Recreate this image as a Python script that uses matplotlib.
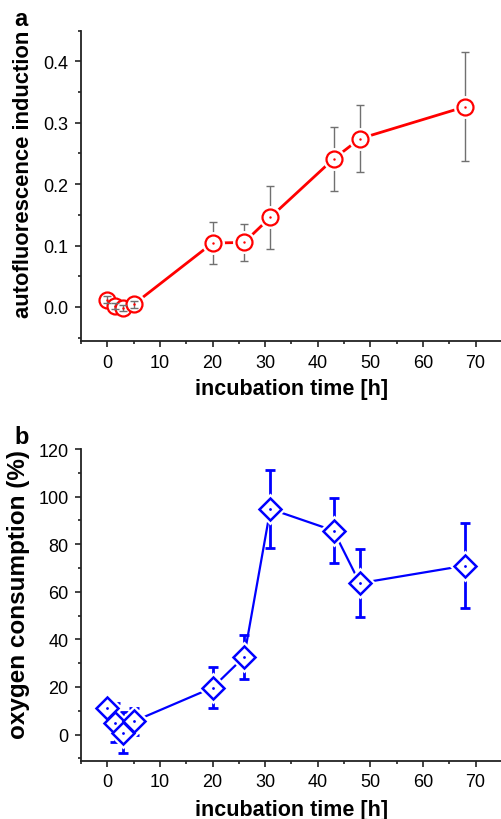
import matplotlib
matplotlib.use('Agg')
import matplotlib.pyplot as plt
from matplotlib.ticker import MultipleLocator, AutoMinorLocator

plt.rcParams['font.family'] = ['Liberation Sans', 'DejaVu Sans']

# incubation times [h]
time_h = [0, 1.5, 3, 5, 20, 26, 31, 43, 48, 68]

# panel a: autofluorescence induction
af_mean = [0.012, 0.002, -0.002, 0.004, 0.104, 0.105, 0.146, 0.241, 0.274, 0.326]
af_err = [0.005, 0.005, 0.005, 0.005, 0.034, 0.030, 0.051, 0.052, 0.055, 0.089]

# panel b: oxygen consumption (%)
ox_mean = [11, 5, 0.7, 5.5, 19.7, 32.6, 94.8, 85.7, 63.6, 71]
ox_err = [3, 8.3, 8.6, 5.7, 8.7, 9.1, 16.4, 13.7, 14.4, 17.7]

fig = plt.figure(figsize=(5.01, 8.20), dpi=100)
ax1 = fig.add_axes([0.1617, 0.5826, 0.84, 0.3788])
ax2 = fig.add_axes([0.1617, 0.0711, 0.84, 0.3801])


def style_axes(ax, xpad):
    for side in ('top', 'right'):
        ax.spines[side].set_visible(False)
    for side in ('left', 'bottom'):
        ax.spines[side].set_linewidth(1.3)
        ax.spines[side].set_color('#222222')
    ax.set_xlim(-5, 75)
    ax.xaxis.set_major_locator(MultipleLocator(10))
    ax.xaxis.set_minor_locator(AutoMinorLocator(2))
    ax.yaxis.set_minor_locator(AutoMinorLocator(2))
    ax.tick_params(which='major', direction='out', length=4.5, width=1.2,
                   labelsize=13, color='#222222', pad=4.5)
    ax.tick_params(which='minor', direction='out', length=2.5, width=1.2,
                   color='#222222')
    ax.set_xlabel('incubation time [h]', fontsize=15.5, fontweight='bold',
                  labelpad=xpad)


# panel a
small = slice(0, 4)
ax1.plot(time_h, af_mean, color='red', lw=2, zorder=2)
ax1.errorbar(time_h, af_mean, yerr=af_err, fmt='none', ecolor='#707070',
             elinewidth=1, capsize=3, capthick=1, zorder=1)
ax1.plot(time_h, af_mean, ls='none', marker='o', ms=14.5, mfc='white',
         mec='white', mew=2, zorder=3)
ax1.plot(time_h, af_mean, ls='none', marker='o', ms=11.5, mfc='white',
         mec='red', mew=1.6, zorder=4)
ax1.errorbar(time_h[small], af_mean[small], yerr=af_err[small], fmt='none',
             ecolor='#707070', elinewidth=1, capsize=3, capthick=1, zorder=5)
ax1.plot(time_h, af_mean, ls='none', marker='.', ms=1.5, color='red', zorder=6)
style_axes(ax1, 5)
ax1.set_ylim(-0.056, 0.45)
ax1.yaxis.set_major_locator(MultipleLocator(0.1))
ax1.yaxis.set_major_formatter(plt.FormatStrFormatter('%.1f'))
ax1.set_ylabel('autofluorescence induction', fontsize=15.8, fontweight='bold',
               labelpad=7)
ax1.yaxis.label.set_y(0.54)
fig.text(0.028, 0.976, 'a', fontsize=17, fontweight='bold', va='center')

# panel b
ax2.plot(time_h, ox_mean, color='blue', lw=1.6, zorder=2)
ax2.errorbar(time_h, ox_mean, yerr=ox_err, fmt='none', ecolor='blue',
             elinewidth=2, capsize=3.5, capthick=2, zorder=1)
ax2.plot(time_h, ox_mean, ls='none', marker='D', ms=14, mfc='white',
         mec='white', mew=2, zorder=3)
ax2.plot(time_h, ox_mean, ls='none', marker='D', ms=11.5, mfc='white',
         mec='blue', mew=1.8, zorder=4)
ax2.plot(time_h, ox_mean, ls='none', marker='.', ms=2, color='blue', zorder=6)
style_axes(ax2, 6)
ax2.set_ylim(-11, 120)
ax2.yaxis.set_major_locator(MultipleLocator(20))
ax2.set_ylabel('oxygen consumption (%)', fontsize=17.5, fontweight='bold',
               labelpad=6)
ax2.yaxis.label.set_y(0.535)
fig.text(0.028, 0.466, 'b', fontsize=17, fontweight='bold', va='center')

fig.savefig('out.png', dpi=100)
